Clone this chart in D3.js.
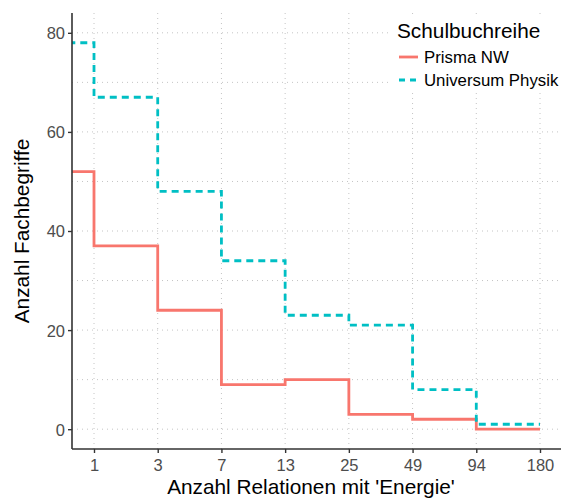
<!DOCTYPE html>
<html><head><meta charset="utf-8">
<script src="https://cdn.jsdelivr.net/npm/d3@7"></script>
<style>
body{margin:0;background:#fff;}
svg{display:block;font-family:"Liberation Sans",Arial,sans-serif;}
</style></head>
<body>
<svg id="chart" width="561" height="500"></svg>
<script>
const categories = ["1","3","7","13","25","49","94","180"];
const prisma = [52,37,24,9,10,3,2,0];
const universum = [78,67,48,34,23,21,8,1];
const yTicks = [0,20,40,60,80];
const yMinor = [10,30,50,70];
const seriesNames = ["Prisma NW","Universum Physik"];
const colors = ["#F8766D","#00BFC4"];

const svg = d3.select("#chart");
const pLeft = 72, pRight = 600, pTop = 13, pBottom = 449;

const x = d3.scaleLinear().domain([1, 8]).range([94, 540]);
const xMin = x.invert(pLeft);
const y = d3.scaleLinear().domain([-4, 84]).range([pBottom, pTop]);

svg.append("defs").append("clipPath").attr("id","clip")
  .append("rect").attr("x",pLeft).attr("y",pTop).attr("width",pRight-pLeft).attr("height",pBottom-pTop);

// grid
const grid = svg.append("g");
yTicks.concat(yMinor).forEach(v=>{
  grid.append("line").attr("x1",pLeft).attr("x2",pRight).attr("y1",y(v)).attr("y2",y(v))
    .attr("stroke","#c4c4c4").attr("stroke-width",1).attr("stroke-dasharray","1,4");
});
categories.forEach((c,i)=>{
  grid.append("line").attr("x1",x(i+1)).attr("x2",x(i+1)).attr("y1",pTop).attr("y2",pBottom)
    .attr("stroke","#c4c4c4").attr("stroke-width",1).attr("stroke-dasharray","1,4");
});

// lines
const line = d3.line().x(d=>x(d[0])).y(d=>y(d[1])).curve(d3.curveStepBefore);
function pts(vals){ return [[xMin-1, vals[0]]].concat(vals.map((v,i)=>[i+1, v])); }
const g = svg.append("g").attr("clip-path","url(#clip)");
g.append("path").attr("d", line(pts(prisma))).attr("fill","none")
  .attr("stroke",colors[0]).attr("stroke-width",2.8);
g.append("path").attr("d", line(pts(universum))).attr("fill","none")
  .attr("stroke",colors[1]).attr("stroke-width",2.8).attr("stroke-dasharray","7,5");

// axes
const yAxis = d3.axisLeft(y).tickValues(yTicks).tickSize(4).tickPadding(3);
const ya = svg.append("g").attr("transform",`translate(${pLeft},0)`).call(yAxis);
ya.select(".domain").attr("d",`M0,${pTop}V${pBottom}`).attr("stroke","#333").attr("stroke-width",1.6);
ya.selectAll(".tick line").attr("stroke","#333").attr("stroke-width",1.4);
ya.selectAll(".tick text").attr("fill","#4d4d4d").style("font-size","16.5px").attr("dy","0.36em");

const xAxis = d3.axisBottom(x).tickValues(d3.range(1,9)).tickFormat(d=>categories[d-1]).tickSize(4).tickPadding(3);
const xa = svg.append("g").attr("transform",`translate(0,${pBottom})`).call(xAxis);
xa.select(".domain").attr("d",`M${pLeft},0H${pRight}`).attr("stroke","#333").attr("stroke-width",1.6);
xa.selectAll(".tick line").attr("stroke","#333").attr("stroke-width",1.4);
xa.selectAll(".tick text").attr("fill","#4d4d4d").style("font-size","16.5px").attr("dy","0.9em");

// titles
svg.append("text").attr("x",311).attr("y",494).attr("text-anchor","middle")
  .style("font-size","20.8px").attr("fill","#000").text("Anzahl Relationen mit 'Energie'");
svg.append("text").attr("transform","translate(29,231) rotate(-90)").attr("text-anchor","middle")
  .style("font-size","20.8px").attr("fill","#000").text("Anzahl Fachbegriffe");

// legend
const lg = svg.append("g");
lg.append("rect").attr("x",392).attr("y",16).attr("width",169).attr("height",76).attr("fill","#fff");
lg.append("text").attr("x",397).attr("y",38).style("font-size","20.8px").attr("fill","#000").text("Schulbuchreihe");
seriesNames.forEach((s,i)=>{
  const yy = 57 + i*23;
  lg.append("line").attr("x1",399).attr("x2",418).attr("y1",yy).attr("y2",yy)
    .attr("stroke",colors[i]).attr("stroke-width",2.8)
    .attr("stroke-dasharray", i===1 ? "6,5" : null);
  lg.append("text").attr("x",424).attr("y",yy).attr("dy","0.36em").style("font-size","16.8px")
    .attr("fill","#000").text(s);
});
</script>
</body></html>
